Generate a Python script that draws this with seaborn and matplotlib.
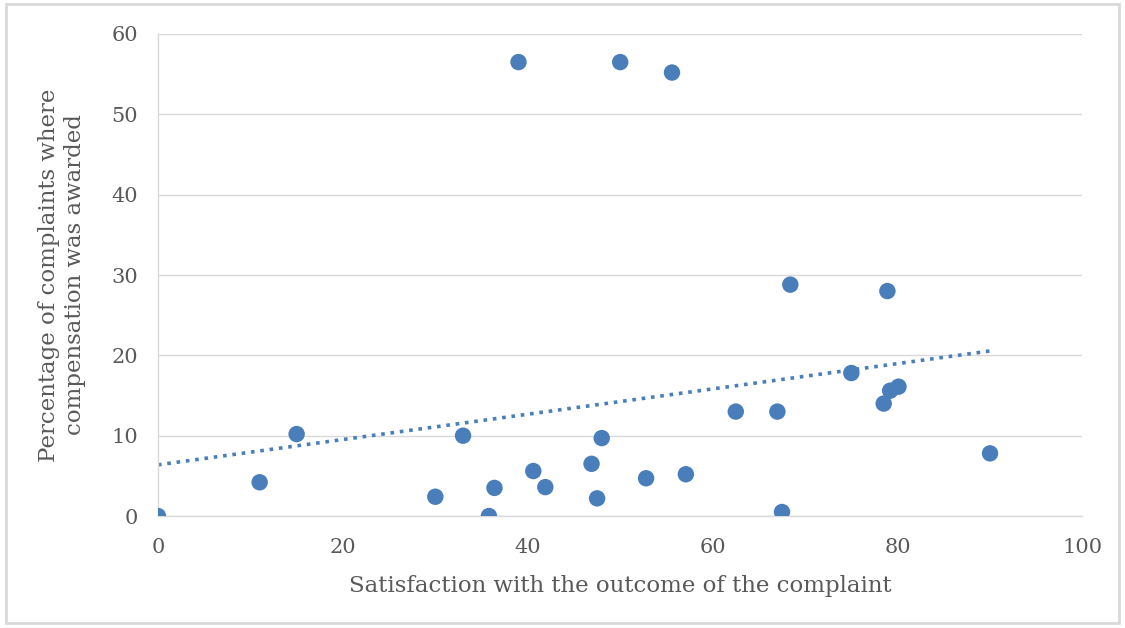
import numpy as np
import pandas as pd
import matplotlib
matplotlib.use("Agg")
import matplotlib.pyplot as plt
import seaborn as sns

satisfaction = [0, 11, 15, 30, 33, 35.8, 36.4, 39, 40.6, 41.9, 46.9, 47.5, 48, 50, 52.8,
                55.6, 57.1, 62.5, 67, 67.5, 68.4, 75, 78.5, 78.9, 79.2, 80.1, 90]
compensation = [0, 4.2, 10.2, 2.4, 10.0, 0, 3.5, 56.5, 5.6, 3.6, 6.5, 2.2, 9.7, 56.5, 4.7,
                55.2, 5.2, 13.0, 13.0, 0.5, 28.8, 17.8, 14.0, 28.0, 15.6, 16.1, 7.8]
x_ticks = [0, 20, 40, 60, 80, 100]
y_ticks = [0, 10, 20, 30, 40, 50, 60]

df = pd.DataFrame({"x": satisfaction, "y": compensation})

sns.set_theme(style="white")
plt.rcParams['font.family'] = ['DejaVu Serif']

blue = "#4A7EBB"
grey_text = "#595959"
grid_c = "#D9D9D9"

fig = plt.figure(figsize=(11.25, 6.28), dpi=100)
fig.patches.append(plt.Rectangle((0.005, 0.008), 0.99, 0.985, transform=fig.transFigure,
                                 fill=False, edgecolor="#D9D9D9", linewidth=2))
ax = fig.add_axes([0.1404, 0.1783, 0.8218, 0.7676])

# trendline (linear fit)
m, b = np.polyfit(df["x"], df["y"], 1)
xs = np.array([df["x"].min(), df["x"].max()])
ax.plot(xs, m * xs + b, linestyle=(0, (1, 1.6)), color=blue, linewidth=2.6, zorder=2)

sns.scatterplot(data=df, x="x", y="y", ax=ax, color=blue, s=140, edgecolor="none", zorder=3)

ax.set_xlim(0, 100)
ax.set_ylim(0, 60)
ax.set_xticks(x_ticks)
ax.set_yticks(y_ticks)
ax.yaxis.grid(True, color=grid_c, linewidth=1)
ax.set_axisbelow(True)
for s in ["top", "right"]:
    ax.spines[s].set_visible(False)
for s in ["left", "bottom"]:
    ax.spines[s].set_color(grid_c)
    ax.spines[s].set_linewidth(1)
ax.tick_params(axis="both", length=0, labelsize=15, labelcolor=grey_text)
ax.tick_params(axis="x", pad=16)
ax.tick_params(axis="y", pad=14.5)
ax.set_xlabel("Satisfaction with the outcome of the complaint", fontsize=16.5, color=grey_text, labelpad=13)
ax.set_ylabel("Percentage of complaints where\ncompensation was awarded", fontsize=16.5,
              color=grey_text, labelpad=18, linespacing=1.25)
for lbl in ax.get_xticklabels() + ax.get_yticklabels():
    lbl.set_clip_on(False)

fig.savefig("out.png", dpi=100)
